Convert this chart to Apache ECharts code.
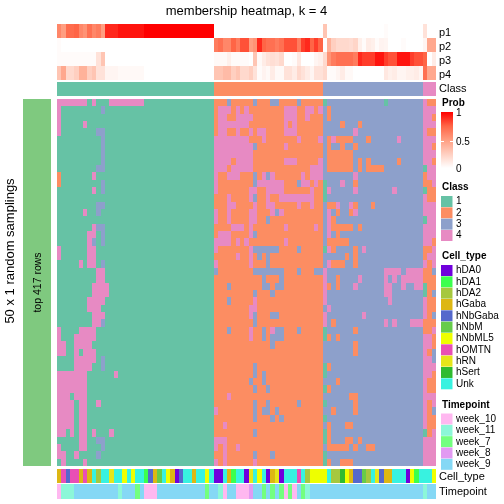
<!DOCTYPE html>
<html><head><meta charset="utf-8">
<style>html,body{margin:0;padding:0;background:#fff}#c{width:504px;height:504px}</style>
<script src="https://cdn.jsdelivr.net/npm/echarts@6/dist/echarts.min.js"></script>
</head><body><div id="c"></div>
<script>
const classSizes=[36,25,23,3];
const classNames=['1','2','3','4'];
const classColors=['#66C2A5','#FC8D62','#8DA0CB','#E78AC3'];
const cellTypes=['hDA0','hDA1','hDA2','hGaba','hNbGaba','hNbM','hNbML5','hOMTN','hRN','hSert','Unk'];
const cellColors=['#7000DC','#3CFF4E','#A6C83E','#DDB713','#5568CC','#66CC4A','#EEFF00','#E94FB5','#E6E619','#2FBB2F','#38F2E0'];
const timepoints=['week_10','week_11','week_7','week_8','week_9'];
const timeColors=['#FFB8F0','#8CF7D8','#73FF7F','#E29AF2','#85D8F5'];
const pNames=['p1','p2','p3','p4'];
const p1=[.6,.5,.72,.72,.75,.6,.55,.7,.6,.65,.5,.9,.9,.9,.95,.95,.95,.95,.95,.95,1,1,1,1,1,1,1,1,1,1,1,1,1,1,1,1,
 0,0,0,0,0,0,0,0,0,0,0,0,0,0,0,0,0,0,0,0,0,0,0,0,0,
 .3,0,0,0,0,0,0,0,0,0,0,0,0,0,.02,0,0,0,0,0,0,0,0,
 .15,0,0];
const p2=[.02,0,0,0,0,0,0,0,0,0,0,0,0,0,0,0,0,0,0,0,0,0,0,0,0,0,0,0,0,0,0,0,0,0,0,0,
 .65,.7,.6,.6,.75,.65,.8,.8,.5,.55,.9,.75,.7,.7,.65,.7,.8,.8,.8,.65,.85,.9,.75,.85,.75,
 0,.4,.25,.2,.2,.2,.18,.22,.08,.02,.1,.08,.02,.06,.05,0,0,0,.02,0,0,0,0,
 .05,.45,.45];
const p3=[.02,.02,.02,.02,.02,.02,.02,.02,.02,.15,.3,0,0,0,0,0,0,0,0,0,0,0,0,0,0,0,0,0,0,0,0,0,0,0,0,0,
 .03,.03,.03,.08,.02,.02,.02,.02,0,.3,.03,.1,.15,.17,.15,.2,0,0,.02,.12,0,0,0,.05,.08,
 .2,.55,.65,.7,.7,.7,.7,.65,.9,.85,.85,.85,.95,.95,.85,.8,.8,.95,.95,.95,.85,.8,.8,
 .75,0,.1];
const p4=[.3,.45,.2,.2,.25,.4,.4,.25,.3,.15,.15,.05,.05,.05,.03,.03,.03,.03,.03,.03,0,0,0,0,0,0,0,0,0,0,0,0,0,0,0,0,
 .3,.3,.35,.35,.25,.3,.2,.2,.25,.15,.02,.06,.03,.1,.03,.03,.15,.15,.1,.2,.15,.1,.05,.15,.15,
 .2,.02,.02,.05,.1,.03,.03,0,0,0,0,0,0,0,.12,.08,.1,.05,.05,.08,.08,.1,.05,
 .7,.45,.45];
const cellTypeByColumn=[3,7,4,7,7,3,7,3,10,2,10,10,8,10,10,6,10,6,10,10,1,4,3,5,10,6,3,0,4,10,10,3,10,10,6,10,
 0,0,10,3,1,10,10,0,8,10,6,10,0,3,8,0,10,10,10,7,10,2,6,6,6,
 6,10,2,2,9,6,3,4,4,5,2,10,8,4,3,3,10,10,10,0,6,1,10,
 10,10,6];
const timepointByColumn=[0,1,1,1,4,4,4,4,4,4,4,4,4,4,1,4,4,4,2,4,0,0,0,4,4,4,4,4,4,4,4,4,4,4,2,4,
 4,1,0,4,4,0,0,0,3,4,4,2,4,2,4,2,0,2,0,4,2,1,4,4,4,
 4,4,4,4,4,4,4,4,4,4,4,4,4,4,4,4,4,4,4,4,4,4,4,
 1,4,4];
// each row: class:columns that differ from the column's base class
const rowDiffs=[
"4:0-6,8,12-19 3:39,45,49-50,55 1:61,75 2:85-86",
"4:0 3:10 4:37-39,41,43,52-54,57-58,60 2:62",
"4:0 4:37-38,41-44,52-54,57 2:62,86",
"4:0,6 4:37-43,52,54 2:65,69",
"4:0 3:9-10 4:37-38,41,44,46-47,52-54 4:68 2:85-86",
"3:10 4:36-43,47,55,60 2:62,64-67,71 4:63,78",
"3:10 4:36-44,52 3:45 2:62,65,68,86",
"3:10 4:36-44 2:62-67",
"3:10 4:36-39,41-44,52-54,60 2:62-67,69,71,78,86",
"3:9-10 4:36-38,40-44,58-60 2:62-67,69,71-74 1:84",
"2:0 4:8 4:36,39-41 3:45,48 4:47,49,56,58-60 4:68 2:84",
"2:0 3:10 4:36 3:45 4:46-51 3:55 4:56-57,59 1:61 4:65 2:68 2:84-85",
"4:8 3:10 4:36,44-45,48-51,58 1:61 4:62,68,77 1:84 2:85-86",
"4:39,44,48,51-58 3:45 1:61 2:85-86",
"3:9-10 4:39-40,45,48-49,55,58 2:62-63,68,72 4:64,67",
"4:6 3:9 4:36,39,44-45,49,51 3:50 4:62,68 2:64,67",
"4:36,39,44-45 3:48 4:62 2:63 1:84",
"4:8 3:9-10 4:40-42,44,52,59 4:62 2:63-67,69",
"4:7-8 3:10 4:37-39,44 3:45 4:62 2:64",
"4:7 3:8,10 4:36-39,41,43,52 2:62-66,86",
"4:0,7-8 4:36,44 3:45-50,55 1:61 4:62,70 2:63,68 2:84-85",
"4:0,7-8 4:41,44 3:46,48 2:66,68,84",
"4:5,7-8 3:10 4:36,44 3:48 4:62 2:63-65,68,85",
"4:9-10 3:36,45-51,55,59-60 4:61,75-78,80-83 2:84-85 3:86",
"4:9-10 3:47,51 4:61,69,75,77,79-83 2:64,84-86",
"4:8-11 3:39,47-48,50-51 4:61,68,75-76,79,82-83 2:62,64 1:84 2:85-86",
"4:8-11 3:45,49 4:61,75-76 1:84 2:85 3:86",
"4:7-10 3:39 4:45 4:61,76 2:85-86",
"4:7-9 4:44-45 4:62 2:85-86",
"4:8-10 4:44 3:45,49-50 4:61,70 2:85 3:86",
"4:8-9 3:10 3:45 4:61,75,77,81-83 2:63,84-86",
"4:0,5-8 3:39,47,50-51,55 4:44,49 1:61 2:68,84-85",
"4:0,4-8 4:44 3:47,49-51 1:61 2:62,64,86",
"4:0-1,4-7 3:49 2:68,86",
"4:0-1,4,6-8 2:68,85 3:86",
"4:4-8 3:10 3:86",
"4:4-7 3:10 3:45 1:61 2:62",
"4:0-6,13 3:45,47 1:61 2:86",
"4:0-6 3:44,47 2:64,85-86",
"4:0-6 3:45,48 1:61 2:62,85-86",
"4:0-2,4-6 4:39 2:67-68",
"4:0-3,5-6,9 3:45,48,55 1:61 2:68,85",
"4:0-3,5-6 4:36 3:45,47-48,50 2:63,68,85 3:86",
"4:0-3,5-6 3:45,49,51 1:61 2:85-86",
"4:0-3,5-6 4:38 2:62,66-67,85-86",
"4:0-1,3,5-6,8,12 3:45 1:61 2:62 1:84 2:85",
"4:5-6 3:9-10 4:36-38 1:61 2:62,66-67,69",
"4:0,5-6 3:10 4:36,38,41 2:62-66,68,71-72",
"4:0-1,4 3:9 4:38 3:45,49 1:61",
"4:1,6 4:36,38,45 1:61 2:62,65-67"
];

const baseClass=[];classSizes.forEach((n,k)=>{for(let i=0;i<n;i++)baseClass.push(k+1);});
const nCols=baseClass.length;
function rowValues(s){
  const r=baseClass.slice();
  s.split(' ').forEach(part=>{
    const [c,list]=part.split(':');
    list.split(',').forEach(t=>{
      const [a,b]=t.split('-').map(Number);
      for(let j=a;j<=(b===undefined?a:b);j++)r[j]=+c;
    });
  });
  return r;
}
const mainData=[];rowDiffs.forEach((s,i)=>rowValues(s).forEach((v,j)=>mainData.push([j,i,v])));
const pData=[];[p1,p2,p3,p4].forEach((a,i)=>a.forEach((v,j)=>pData.push([j,i,v])));

const L=57,R=504-436;
const grids=[
 {left:L,right:R,top:24,height:56},
 {left:L,right:R,top:82,height:14},
 {left:L,right:R,top:99,height:367},
 {left:L,right:R,top:469,height:14},
 {left:L,right:R,top:484,height:15},
 {left:23,width:28,top:99,height:367}
];
const cat=(n,g,inv)=>({type:'category',gridIndex:g,show:false,inverse:!!inv,data:Array.from({length:n},(_,i)=>i)});
const xAxes=[0,1,2,3,4].map(g=>cat(nCols,g)).concat([cat(1,5)]);
const yAxes=[cat(4,0,true),cat(1,1),cat(rowDiffs.length,2,true),cat(1,3),cat(1,4),cat(1,5)];
const ramp=['#FFFFFF','#FFCFC0','#FF9E81','#FF6546','#FF0000'];
// every cell's edges are snapped to whole pixels so neighbours never leave a seam
const cells=(g,data,colorOf)=>({
  type:'custom',xAxisIndex:g,yAxisIndex:g,data,silent:true,animation:false,progressive:0,
  encode:{x:0,y:1},
  renderItem:(params,api)=>{
    const c=api.coord([api.value(0),api.value(1)]),s=api.size([1,1]);
    const x0=Math.round(c[0]-s[0]/2),x1=Math.round(c[0]+s[0]/2);
    const y0=Math.round(c[1]-s[1]/2),y1=Math.round(c[1]+s[1]/2);
    return {type:'rect',shape:{x:x0,y:y0,width:x1-x0,height:y1-y0},style:{fill:colorOf(api.value(2))}};
  }
});

const gfx=[];
const F='"Liberation Sans",Arial,sans-serif';
const txt=(x,y,t,size,o={})=>gfx.push({type:'text',x,y,rotation:o.rot||0,z:10,silent:true,style:{text:t,font:(o.bold?'bold ':'')+size+'px '+F,fill:'#000',align:o.align||'left',verticalAlign:'middle'}});
const swatches=(names,cols,y0,step,h)=>names.forEach((n,i)=>{
  gfx.push({type:'rect',silent:true,shape:{x:441,y:y0+i*step,width:11.5,height:h},style:{fill:cols[i]}});
  txt(456,y0+i*step+step/2,n,10);
});
txt(246.5,11,'membership heatmap, k = 4',13,{align:'center'});
pNames.forEach((n,i)=>txt(439,32.5+i*14.2,n,11));
txt(439,89,'Class',11);
txt(439,476.5,'Cell_type',11);
txt(439,492,'Timepoint',11);
txt(10,251,'50 x 1 random samplings',13,{rot:Math.PI/2,align:'center'});
txt(38,282.5,'top 417 rows',10.5,{rot:Math.PI/2,align:'center'});
txt(442,103,'Prob',10,{bold:true});
gfx.push({type:'rect',silent:true,shape:{x:441,y:112,width:12,height:56},style:{fill:new echarts.graphic.LinearGradient(0,0,0,1,ramp.slice().reverse().map((c,i)=>({offset:i/4,color:c})))}});
gfx.push({type:'line',silent:true,shape:{x1:441,y1:141.5,x2:444,y2:141.5},style:{stroke:'#fff',lineWidth:1}});
gfx.push({type:'line',silent:true,shape:{x1:450,y1:141.5,x2:453,y2:141.5},style:{stroke:'#fff',lineWidth:1}});
txt(456,113.5,'1',10);txt(456,142,'0.5',10);txt(456,169,'0',10);
txt(442,187,'Class',10,{bold:true});
swatches(classNames,classColors,196,11.33,11);
txt(442,256,'Cell_type',10,{bold:true});
swatches(cellTypes,cellColors,265,11.33,11);
txt(442,405,'Timepoint',10,{bold:true});
swatches(timepoints,timeColors,413.5,11.33,11);

const chart=echarts.init(document.getElementById('c'),null,{renderer:'canvas'});
chart.setOption({
 animation:false,backgroundColor:'#fff',
 grid:grids,xAxis:xAxes,yAxis:yAxes,
 series:[
  cells(0,pData,v=>echarts.color.lerp(v,ramp)),
  cells(1,baseClass.map((v,j)=>[j,0,v]),v=>classColors[v-1]),
  cells(2,mainData,v=>classColors[v-1]),
  cells(3,cellTypeByColumn.map((v,j)=>[j,0,v]),v=>cellColors[v]),
  cells(4,timepointByColumn.map((v,j)=>[j,0,v]),v=>timeColors[v]),
  cells(5,[[0,0,1]],()=>'#7FC97F')
 ],
 graphic:gfx
});
</script></body></html>
